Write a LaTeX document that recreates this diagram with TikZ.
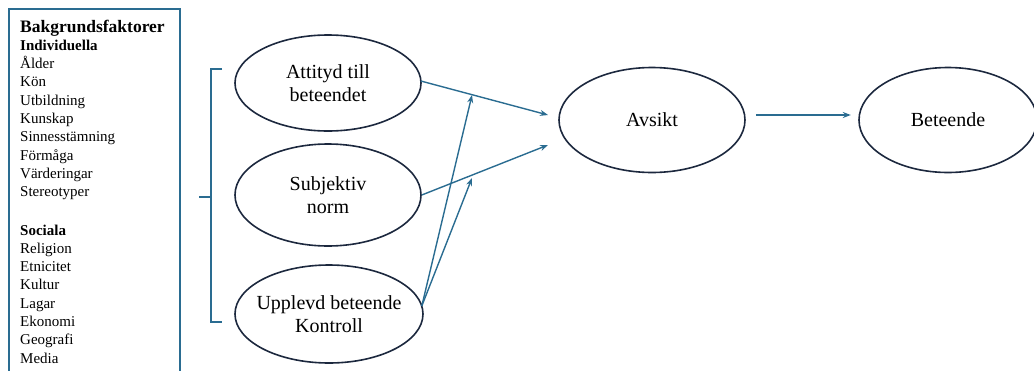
\documentclass[tikz,border=0pt]{standalone}
\usepackage{fontspec}
\setmainfont{Liberation Serif}
\usetikzlibrary{arrows.meta,shapes.geometric}
\definecolor{tealb}{RGB}{42,108,145}
\definecolor{navy}{RGB}{28,40,62}
\tikzset{
  oval/.style={draw=navy, line width=1.6pt, ellipse, minimum width=#1, align=center, font=\fontsize{20}{22.5}\selectfont, inner ysep=0pt, inner xsep=-15pt},
  conn/.style={draw=tealb, line width=1.4pt, -{Stealth[length=8pt,width=6pt]}},
  item/.style={anchor=base west, inner sep=0pt, font=\fontsize{15}{17}\selectfont},
  bitem/.style={anchor=base west, inner sep=0pt, font=\fontsize{15}{17}\selectfont\bfseries},
}
\begin{document}
\begin{tikzpicture}[x=1pt,y=-1pt]
\useasboundingbox (0,0) rectangle (1034,370);
% box
\draw[tealb, line width=1.4pt] (9,380) -- (9,9) -- (180,9) -- (180,380);
\node[item, font=\fontsize{17.5}{20}\selectfont\bfseries] (t0) at (20,32.5) {Bakgrundsfaktorer};
\node[bitem] (t1) at (20,50.5) {Individuella};
\node[item] (a1) at (20,68.5) {Ålder};
\node[item] (a2) at (20,86.8) {Kön};
\node[item] (a3) at (20,105.1) {Utbildning};
\node[item] (a4) at (20,123.4) {Kunskap};
\node[item] (a5) at (20,141.7) {Sinnesstämning};
\node[item] (a6) at (20,160) {Förmåga};
\node[item] (a7) at (20,178.3) {Värderingar};
\node[item] (a8) at (20,196.6) {Stereotyper};
\node[bitem] (t2) at (20,235) {Sociala};
\node[item] (b1) at (20,253.3) {Religion};
\node[item] (b2) at (20,271.6) {Etnicitet};
\node[item] (b3) at (20,289.9) {Kultur};
\node[item] (b4) at (20,308.2) {Lagar};
\node[item] (b5) at (20,326.5) {Ekonomi};
\node[item] (b6) at (20,344.8) {Geografi};
\node[item] (b7) at (20,363.1) {Media};
% bracket
\coordinate (bt) at (211,69);
\coordinate (bb) at (211,322);
\coordinate (bm) at (211,197);
\draw[tealb, line width=1.4pt] (222,69) -- (bt) -- (bb) -- (222,322);
\draw[tealb, line width=1.4pt] (bm) -- (199,197);
% ellipses
\node[oval=186pt, minimum height=96pt] (att) at (328,83) {Attityd till\\beteendet};
\node[oval=186pt, minimum height=102pt] (sub) at (328,195) {Subjektiv\\norm};
\node[oval=188pt, minimum height=98pt] (upp) at (329,314) {Upplevd beteende\\Kontroll};
\node[oval=186pt, minimum height=105pt] (avs) at (652,120) {Avsikt};
\node[oval=178pt, minimum height=105pt] (bet) at (948,120) {Beteende};
% arrows
\coordinate (e1) at (548,115);
\coordinate (e2) at (548,145);
\coordinate (m1) at (472,95);
\coordinate (m2) at (472,178);
\draw[conn] (att.east) ++(-1,-2) -- (e1);
\draw[conn] (sub.east) -- (e2);
\draw[conn] (upp.east) ++(-2,-8) coordinate (us) -- (m1);
\draw[conn] (us) -- (m2);
\draw[conn] (avs.east) ++(10,-5) -- ++(95,0);
\end{tikzpicture}
\end{document}
